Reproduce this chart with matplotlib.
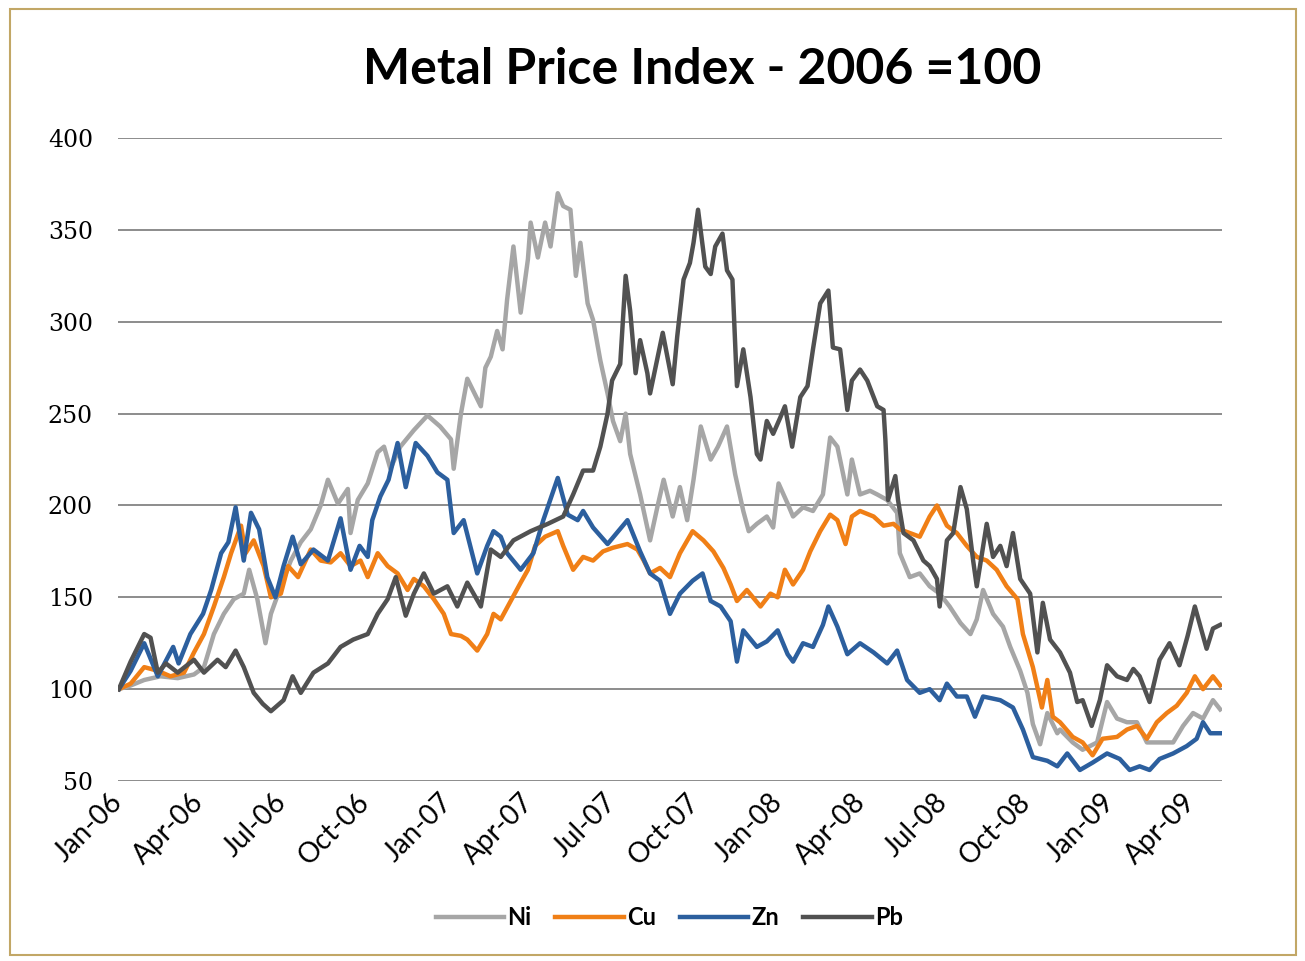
import matplotlib
matplotlib.use("Agg")
import matplotlib.pyplot as plt
import matplotlib.transforms as mtrans
import pandas as pd
from matplotlib.patches import Rectangle

# trading day offsets from 2 Jan 2006, and index values
ni_day = [0, 13, 28, 46, 65, 83, 94, 105, 116, 127, 138, 144, 153, 162, 168, 179, 190, 201,
          212, 223, 231, 242, 253, 256, 264, 275, 286, 293, 300, 311, 326, 341, 355, 367, 370,
          378, 385, 396, 400, 405, 411, 418, 424, 429, 436, 444, 452, 455, 463, 471, 477, 485,
          491, 499, 505, 510, 518, 524, 532, 540, 546, 554, 560, 565, 576, 587, 595, 602, 612,
          620, 628, 635, 643, 654, 662, 672, 681, 690, 696, 705, 716, 723, 729, 739, 745, 756,
          767, 778, 786, 794, 805, 810, 819, 830, 838, 849, 860, 863, 874, 885, 896, 907, 918,
          930, 941, 948, 955, 966, 977, 985, 996, 1004, 1010, 1018, 1026, 1037, 1040, 1054,
          1065, 1081, 1092, 1103, 1114, 1125, 1136, 1150, 1165, 1176, 1187, 1198, 1209, 1217]
ni_val = [100, 102, 105, 107, 106, 108, 112, 130, 141, 149, 152, 165, 149, 125, 141, 156, 170, 180,
          187, 200, 214, 201, 209, 185, 203, 212, 229, 232, 220, 232, 241, 249, 243, 236, 220,
          250, 269, 258, 254, 275, 281, 295, 285, 312, 341, 305, 334, 354, 335, 354, 341, 370,
          363, 361, 325, 343, 310, 301, 279, 261, 246, 235, 250, 228, 206, 181, 199, 214, 194,
          210, 192, 214, 243, 225, 232, 243, 217, 197, 186, 190, 194, 188, 212, 201, 194, 199,
          197, 206, 237, 232, 206, 225, 206, 208, 206, 203, 196, 174, 161, 163, 156, 152, 145,
          136, 130, 138, 154, 141, 134, 123, 110, 98, 81, 70, 87, 76, 78, 71,
          67, 71, 93, 84, 82, 82, 71, 71, 71, 80, 87, 84, 94, 89]

cu_day = [0, 13, 28, 43, 57, 72, 83, 94, 105, 116, 124, 135, 140, 149, 160, 168, 179, 187, 198,
          212, 223, 234, 245, 256, 267, 275, 286, 297, 308, 319, 326, 337, 348, 359, 367, 378,
          385, 396, 407, 414, 422, 433, 444, 452, 460, 471, 485, 491, 502, 513, 524, 535, 546,
          562, 573, 580, 587, 598, 609, 620, 634, 646, 657, 668, 676, 683, 694, 709, 720, 728,
          736, 745, 756, 764, 775, 786, 794, 803, 810, 819, 834, 845, 856, 863, 874, 885, 896,
          904, 915, 926, 937, 948, 959, 970, 981, 993, 999, 1010, 1020, 1026, 1032, 1040, 1054,
          1065, 1076, 1087, 1103, 1114, 1125, 1136, 1147, 1158, 1169, 1180, 1189, 1198, 1209, 1217]
cu_val = [100, 103, 112, 110, 107, 109, 120, 130, 145, 161, 174, 189, 174, 181, 167, 150, 152, 167, 161,
          176, 170, 169, 174, 167, 170, 161, 174, 167, 163, 154, 160, 156, 149, 141, 130, 129,
          127, 121, 130, 141, 138, 148, 158, 165, 178, 183, 186, 178, 165, 172, 170, 175, 177,
          179, 176, 170, 163, 166, 161, 174, 186, 181, 175, 166, 157, 148, 154, 145, 152, 150,
          165, 157, 165, 175, 186, 195, 192, 179, 194, 197, 194, 189, 190, 187, 185, 183, 194,
          200, 189, 185, 178, 172, 170, 165, 156, 149, 130, 112, 90, 105, 85, 82, 74,
          71, 64, 73, 74, 78, 80, 73, 82, 87, 91, 98, 107, 100, 107, 102]

zn_day = [0, 13, 28, 43, 60, 66, 79, 93, 102, 113, 121, 129, 138, 146, 155, 164, 173, 182, 192,
          201, 215, 231, 245, 256, 266, 275, 280, 289, 298, 308, 317, 328, 341, 352, 363, 370,
          381, 396, 407, 414, 422, 429, 444, 458, 469, 485, 496, 507, 513, 524, 540, 562, 576,
          587, 598, 609, 620, 634, 645, 654, 665, 676, 683, 690, 705, 716, 728, 739, 745, 756,
          767, 778, 784, 794, 805, 819, 834, 849, 860, 871, 885, 896, 907, 915, 926, 937, 946,
          955, 974, 988, 999, 1010, 1026, 1037, 1048, 1062, 1076, 1092, 1106, 1117, 1128, 1139,
          1150, 1165, 1180, 1191, 1198, 1206, 1217]
zn_val = [100, 110, 125, 107, 123, 114, 130, 141, 154, 174, 180, 199, 170, 196, 187, 161, 150, 167, 183,
          168, 176, 170, 193, 165, 178, 172, 192, 205, 214, 234, 210, 234, 227, 218, 214, 185,
          192, 163, 178, 186, 183, 174, 165, 174, 192, 215, 195, 192, 197, 188, 179, 192, 175,
          163, 159, 141, 152, 159, 163, 148, 145, 137, 115, 132, 123, 126, 132, 119, 115, 125,
          123, 135, 145, 134, 119, 125, 120, 114, 121, 105, 98, 100, 94, 103, 96, 96, 85,
          96, 94, 90, 78, 63, 61, 58, 65, 56, 60, 65, 62, 56, 58, 56,
          62, 65, 69, 73, 82, 76, 76]

pb_day = [0, 13, 28, 35, 43, 52, 65, 83, 94, 109, 118, 129, 138, 149, 159, 168, 182, 192, 201,
          215, 231, 245, 259, 275, 286, 297, 306, 317, 326, 337, 348, 363, 374, 385, 400, 411,
          422, 436, 455, 474, 491, 502, 513, 524, 532, 540, 545, 554, 560, 565, 571, 576, 584,
          587, 601, 612, 617, 624, 631, 635, 640, 648, 654, 659, 667, 672, 678, 683, 690, 698,
          705, 709, 716, 723, 731, 736, 744, 753, 761, 767, 775, 784, 789, 797, 805, 810, 819,
          827, 838, 845, 847, 850, 858, 861, 867, 878, 889, 896, 904, 907, 915, 922, 930, 937,
          944, 948, 959, 966, 974, 981, 988, 996, 1007, 1015, 1021, 1029, 1040, 1051, 1059,
          1065, 1075, 1084, 1092, 1103, 1114, 1121, 1128, 1139, 1150, 1161, 1172, 1181, 1189,
          1202, 1209, 1217]
pb_val = [100, 115, 130, 128, 109, 114, 109, 116, 109, 116, 112, 121, 112, 98, 92, 88, 94, 107, 98,
          109, 114, 123, 127, 130, 141, 149, 161, 140, 152, 163, 152, 156, 145, 158, 145, 176,
          172, 181, 186, 190, 194, 206, 219, 219, 232, 250, 268, 277, 325, 306, 272, 290, 272,
          261, 294, 266, 292, 323, 332, 343, 361, 330, 326, 341, 348, 328, 323, 265, 285, 259,
          228, 225, 246, 239, 248, 254, 232, 259, 265, 285, 310, 317, 286, 285, 252, 268, 274,
          268, 254, 252, 236, 203, 216, 203, 185, 181, 170, 167, 160, 145, 181, 185, 210, 198,
          170, 156, 190, 172, 178, 167, 185, 160, 152, 120, 147, 127, 120, 109, 93,
          94, 80, 94, 113, 107, 105, 111, 107, 93, 116, 125, 113, 129, 145,
          122, 133, 135]

series = [
    ("Ni", ni_day, ni_val, "#a6a6a6"),
    ("Cu", cu_day, cu_val, "#f07f16"),
    ("Zn", zn_day, zn_val, "#2c5f9e"),
    ("Pb", pb_day, pb_val, "#515151"),
]

start = pd.Timestamp("2006-01-02")
tick_labels = ["Jan-06", "Apr-06", "Jul-06", "Oct-06", "Jan-07", "Apr-07", "Jul-07",
               "Oct-07", "Jan-08", "Apr-08", "Jul-08", "Oct-08", "Jan-09", "Apr-09"]
tick_dates = pd.to_datetime(tick_labels, format="%b-%y")

fig = plt.figure(figsize=(13.05, 9.61), dpi=100)
fig.patches.append(Rectangle((0.008, 0.006), 0.985, 0.985, transform=fig.transFigure,
                             fill=False, edgecolor="#c2a766", linewidth=1.5))

ax = fig.add_axes([0.0904, 0.1873, 0.846, 0.669])
for name, day, val, col in series:
    dates = start + pd.to_timedelta(day, unit="D")
    ax.plot(dates, val, color=col, lw=3.2, label=name, solid_joinstyle="round")

ax.set_ylim(50, 400)
ax.set_yticks(range(50, 401, 50))
ax.set_xlim(pd.Timestamp("2006-01-01"), pd.Timestamp("2009-05-05"))
ax.set_xticks(tick_dates)
ax.set_xticklabels(tick_labels, rotation=45, ha="right", va="center",
                   rotation_mode="anchor", fontsize=20, family="Lato")
shift = mtrans.ScaledTranslation(8 / 72, 0, fig.dpi_scale_trans)
for t in ax.get_xticklabels():
    t.set_transform(t.get_transform() + shift)
ax.yaxis.grid(True, color="#8c8c8c", lw=1.4)
ax.set_axisbelow(True)
for s in ax.spines.values():
    s.set_visible(False)
ax.tick_params(axis="both", length=0)
ax.tick_params(axis="y", pad=18)
ax.tick_params(axis="x", pad=12)
for t in ax.get_yticklabels():
    t.set_fontfamily("DejaVu Serif")
    t.set_fontsize(17)

fig.text(0.538, 0.928, "Metal Price Index - 2006 =100", ha="center", va="center",
         fontsize=36, fontweight="bold", family="Lato")

fig.legend(loc="center", bbox_to_anchor=(0.513, 0.045), ncol=4, frameon=False,
           prop={"family": "Lato", "size": 17, "weight": "bold"},
           handlelength=2.9, handletextpad=0.15, columnspacing=1.0)

fig.savefig("out.png", dpi=100)
